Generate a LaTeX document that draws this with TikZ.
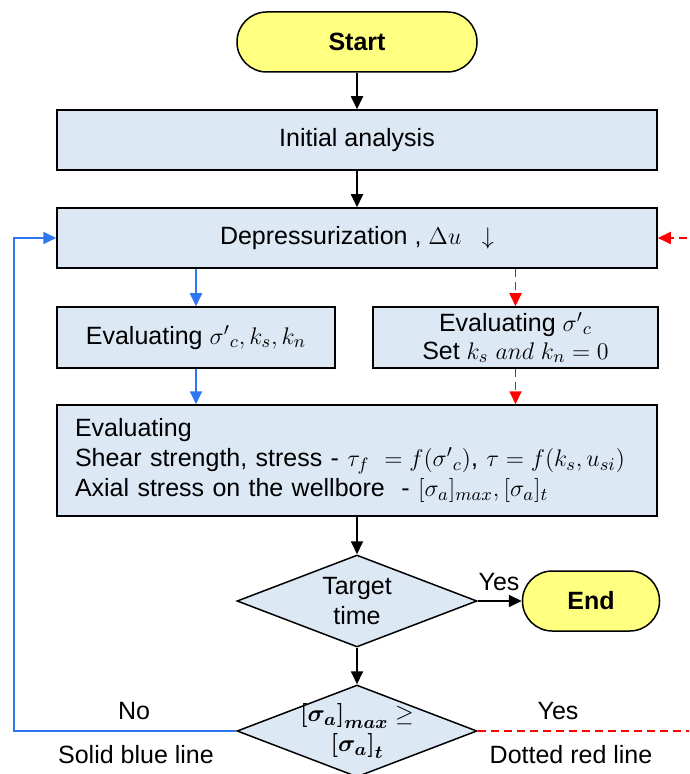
\documentclass[tikz,border=0pt]{standalone}
\usepackage{amsmath,bm}
\usepackage{fontspec}
\setmainfont{Liberation Sans}
\usetikzlibrary{shapes.geometric,arrows.meta}
\definecolor{boxfill}{RGB}{221,232,245}
\definecolor{termfill}{RGB}{255,255,128}
\definecolor{lineblue}{RGB}{45,118,240}
\definecolor{linered}{RGB}{255,0,0}
\begin{document}
\begin{tikzpicture}[x={(0.5pt,0pt)},y={(0pt,-0.5pt)},
  font=\fontsize{12.5}{15}\selectfont,
  box/.style={draw, line width=0.75pt, fill=boxfill, minimum height=30pt, inner sep=0pt, align=center},
  term/.style={draw, line width=0.75pt, fill=termfill, rounded corners=14.9pt, minimum height=30pt, inner sep=0pt, font=\fontsize{12.5}{15}\selectfont\bfseries},
  dec/.style={diamond, draw, line width=0.75pt, fill=boxfill, minimum width=120pt, minimum height=46pt, aspect=2.6, inner sep=-3pt, align=center},
  arr/.style={-{Triangle[length=6.5pt,width=6pt]}, line width=0.9pt},
  barr/.style={arr, draw=lineblue},
  rarr/.style={arr, draw=linered, dash pattern=on 4pt off 2.5pt},
  lbl/.style={inner sep=0pt}]
\useasboundingbox (0,0) rectangle (689,774);
\clip (0,0) rectangle (689,774);

\node[term, minimum width=120pt] (start) at (357,42) {Start};
\node[box, minimum width=300pt] (init) at (357,140) {Initial analysis};
\node[box, minimum width=300pt] (dep) at (357,238) {Depressurization , $\Delta u\ \ \downarrow$};
\node[box, minimum width=139pt, minimum height=30.5pt] (left) at (196,337.5) {Evaluating ${\sigma'}_c,k_s,k_n$};
\node[box, minimum width=142.5pt, minimum height=30.5pt, font=\fontsize{12.5}{14}\selectfont] (right) at (515.5,337.5) {Evaluating ${\sigma'}_c$\\Set $k_s\ and\ k_n=0$};
\node[box, minimum width=300pt, minimum height=55.5pt, text width=282pt, align=left] (big) at (357,460.5) {Evaluating\\Shear strength, stress - $\tau_f\ =f({\sigma'}_c)$, $\tau=f(k_s,u_{si})$\\Axial stress on the wellbore\ \ - $[\sigma_a]_{max},[\sigma_a]_t$};
\node[dec] (d1) at (357,601) {Target\\time};
\node[term, minimum width=68.5pt] (end) at (591,601) {End};
\node[dec] (d2) at (357,731) {$\bm{[\sigma_a]_{max}}\geq$\\$\bm{[\sigma_a]_t}$};

\coordinate (bl) at (14,731);
\coordinate (rr) at (700,731);

\draw[arr] (start) -- (init);
\draw[arr] (init) -- (dep);
\draw[barr] (left.north |- dep.south) -- (left.north);
\draw[rarr] (right.north |- dep.south) -- (right.north);
\draw[barr] (left.south) -- (left.south |- big.north);
\draw[rarr] (right.south) -- (right.south |- big.north);
\draw[arr] (big) -- (d1);
\draw[arr] (d1) -- (end);
\draw[arr] (d1) -- (d2);
\draw[barr] (d2.west) -- (bl) |- (dep.west);
\draw[rarr] (d2.east) -- (rr) |- (dep.east);

\node[lbl] (yes1) at (499,582) {Yes};
\node[lbl] (no) at (134,711) {No};
\node[lbl] (yes2) at (558,711) {Yes};
\node[lbl] (sbl) at (136,755) {Solid blue line};
\node[lbl] (drl) at (571,755) {Dotted red line};
\end{tikzpicture}
\end{document}
